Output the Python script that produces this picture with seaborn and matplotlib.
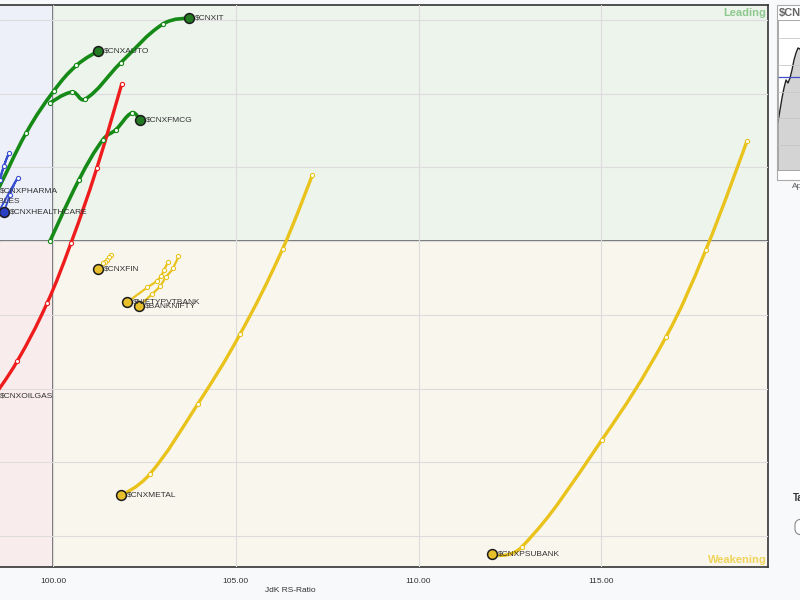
import numpy as np
import pandas as pd
import matplotlib
matplotlib.use("Agg")
import matplotlib.pyplot as plt
from matplotlib.path import Path
from matplotlib.patches import PathPatch, Rectangle, FancyBboxPatch
import seaborn as sns

# ---------------- data (JdK RS-Ratio / RS-Momentum tails, oldest -> latest) ----------------
cnxit_ratio = [99.92, 100.53, 100.87, 101.86, 103.00, 103.72]
cnxit_mom = [101.87, 102.02, 101.92, 102.42, 102.94, 103.02]

cnxauto_ratio = [97.67, 98.41, 99.26, 100.03, 100.64, 101.22]
cnxauto_mom = [100.01, 100.62, 101.46, 102.04, 102.38, 102.57]

cnxfmcg_ratio = [99.92, 100.71, 101.36, 101.72, 102.17, 102.38]
cnxfmcg_mom = [100.00, 100.83, 101.37, 101.51, 101.74, 101.64]

cnxoilgas_ratio = [101.88, 101.20, 100.49, 99.84, 99.02, 98.39]
cnxoilgas_mom = [102.13, 100.99, 99.97, 99.16, 98.37, 97.90]

cnxpharma_ratio = [97.95, 98.44, 98.79, 98.66, 98.55, 98.39]
cnxpharma_mom = [100.49, 100.76, 101.19, 101.02, 100.83, 100.68]

cnxhealth_ratio = [97.87, 98.22, 98.47, 99.03, 98.82, 98.66]
cnxhealth_mom = [100.15, 100.26, 100.37, 100.85, 100.62, 100.39]

cnxdurables_ratio = [95.10, 95.30, 95.45, 95.60, 95.70, 95.79]
cnxdurables_mom = [100.80, 100.72, 100.65, 100.60, 100.57, 100.54]

cnxfin_ratio = [101.60, 101.54, 101.48, 101.42, 101.38, 101.23]
cnxfin_mom = [99.81, 99.78, 99.74, 99.72, 99.70, 99.62]

pvtbank_ratio = [103.15, 103.04, 102.96, 102.84, 102.58, 102.03]
pvtbank_mom = [99.72, 99.61, 99.53, 99.46, 99.37, 99.17]

banknifty_ratio = [103.43, 103.28, 103.09, 102.93, 102.71, 102.35]
banknifty_mom = [99.79, 99.63, 99.51, 99.39, 99.28, 99.12]

cnxmetal_ratio = [107.09, 106.28, 105.12, 103.96, 102.65, 101.86]
cnxmetal_mom = [100.89, 99.89, 98.74, 97.79, 96.84, 96.55]

cnxpsubank_ratio = [118.98, 117.86, 116.77, 115.01, 112.82, 112.00]
cnxpsubank_mom = [101.35, 99.88, 98.70, 97.30, 95.85, 95.75]

series_names = ["$CNXIT", "$CNXAUTO", "$CNXFMCG", "$CNXOILGAS", "$CNXPHARMA",
                "$CNXHEALTHCARE", "$CNXCONSUMERDURABLES", "$CNXFIN", "$NIFTYPVTBANK",
                "$BANKNIFTY", "$CNXMETAL", "$CNXPSUBANK"]

x_ticks = [100, 105, 110, 115]
y_grid = [96, 97, 98, 99, 100, 101, 102, 103]

# small price panel on the right (partially visible)
panel_values = [48, 60, 72, 82, 90, 87, 92, 100, 110, 117, 122, 121, 118, 115, 112, 110]
panel_ref = 93

# ---------------- style ----------------
sns.set_theme(style="white")
plt.rcParams["font.family"] = ["Liberation Sans", "DejaVu Sans"]

GREEN, GREEN_HEAD = "#168a16", "#237a23"
YELLOW, YELLOW_HEAD = "#e9c31c", "#e6bf2a"
RED = "#ee1c1c"
BLUE, BLUE_HEAD = "#3a4fd0", "#2b3fc4"

styles = {
    "$CNXIT": (GREEN, GREEN_HEAD, 2.6),
    "$CNXAUTO": (GREEN, GREEN_HEAD, 2.6),
    "$CNXFMCG": (GREEN, GREEN_HEAD, 2.6),
    "$CNXOILGAS": (RED, RED, 2.4),
    "$CNXPHARMA": (BLUE, BLUE_HEAD, 1.4),
    "$CNXHEALTHCARE": (BLUE, BLUE_HEAD, 1.4),
    "$CNXCONSUMERDURABLES": (BLUE, BLUE_HEAD, 1.4),
    "$CNXFIN": (YELLOW, YELLOW_HEAD, 1.6),
    "$NIFTYPVTBANK": (YELLOW, YELLOW_HEAD, 1.6),
    "$BANKNIFTY": (YELLOW, YELLOW_HEAD, 1.6),
    "$CNXMETAL": (YELLOW, YELLOW_HEAD, 2.4),
    "$CNXPSUBANK": (YELLOW, YELLOW_HEAD, 2.4),
}

ratios = [cnxit_ratio, cnxauto_ratio, cnxfmcg_ratio, cnxoilgas_ratio, cnxpharma_ratio,
          cnxhealth_ratio, cnxdurables_ratio, cnxfin_ratio, pvtbank_ratio,
          banknifty_ratio, cnxmetal_ratio, cnxpsubank_ratio]
moms = [cnxit_mom, cnxauto_mom, cnxfmcg_mom, cnxoilgas_mom, cnxpharma_mom,
        cnxhealth_mom, cnxdurables_mom, cnxfin_mom, pvtbank_mom,
        banknifty_mom, cnxmetal_mom, cnxpsubank_mom]

rows = []
for name, xr, ym in zip(series_names, ratios, moms):
    for i, (a, b) in enumerate(zip(xr, ym)):
        rows.append({"name": name, "step": i, "ratio": a, "momentum": b,
                     "head": i == len(xr) - 1})
df = pd.DataFrame(rows)


def spline_path(xs, ys, smoothing=1.5):
    """Highcharts-like smooth cubic Bezier through the given points."""
    n = len(xs)
    denom = smoothing + 1.0
    L, R = [], []
    for i in range(n):
        x, y = xs[i], ys[i]
        if 0 < i < n - 1:
            lx = (smoothing * x + xs[i - 1]) / denom
            ly = (smoothing * y + ys[i - 1]) / denom
            rx = (smoothing * x + xs[i + 1]) / denom
            ry = (smoothing * y + ys[i + 1]) / denom
            if rx != lx:
                corr = (ry - ly) * (rx - x) / (rx - lx) + y - ry
                ly += corr
                ry += corr
            L.append((lx, ly))
            R.append((rx, ry))
        else:
            L.append((x, y))
            R.append((x, y))
    verts = [(xs[0], ys[0])]
    codes = [Path.MOVETO]
    for i in range(1, n):
        verts += [R[i - 1], L[i], (xs[i], ys[i])]
        codes += [Path.CURVE4] * 3
    return Path(verts, codes)


# ---------------- figure ----------------
W, H = 800, 600
fig = plt.figure(figsize=(8, 6), dpi=100, facecolor="#f8f9fa")
ax_l, ax_r, ax_t, ax_b = 0, 768, 5, 567
ax = fig.add_axes([ax_l / W, 1 - ax_b / H, (ax_r - ax_l) / W, (ax_b - ax_t) / H])
xmin, xmax = 98.55, 119.56
ymin, ymax = 95.58, 103.20
ax.set_xlim(xmin, xmax)
ax.set_ylim(ymin, ymax)

# quadrant backgrounds
quads = [((xmin, 100), (100, ymax), "#eef0f9"),   # improving
         ((100, 100), (xmax, ymax), "#edf4ec"),   # leading
         ((100, ymin), (xmax, 100), "#f9f6ee"),   # weakening
         ((xmin, ymin), (100, 100), "#f9ecec")]   # lagging
for (x0, y0), (x1, y1), c in quads:
    ax.add_patch(Rectangle((x0, y0), x1 - x0, y1 - y0, facecolor=c,
                           edgecolor="none", zorder=0))

ax.set_xticks(x_ticks)
ax.set_xticklabels([f"{v:.2f}" for v in x_ticks])
ax.set_yticks(y_grid)
ax.set_yticklabels([])
ax.grid(True, color="#dcdcdc", lw=0.8, zorder=1)
ax.set_axisbelow(False)
for gl in ax.get_xgridlines() + ax.get_ygridlines():
    gl.set_zorder(1)
ax.tick_params(axis="x", length=0, pad=8, labelsize=6, labelcolor="#333333")
ax.tick_params(axis="y", length=0)
ax.axvline(100, color="#555555", lw=1.1, zorder=2)
ax.axhline(100, color="#555555", lw=1.1, zorder=2)
for s in ["top", "right", "bottom"]:
    ax.spines[s].set_color("#333333")
    ax.spines[s].set_linewidth(1.2)
ax.spines["left"].set_visible(False)

# tails
for name in series_names:
    col, headc, lw = styles[name]
    d = df[df["name"] == name]
    path = spline_path(d["ratio"].to_numpy(), d["momentum"].to_numpy())
    ax.add_patch(PathPatch(path, facecolor="none", edgecolor=col, lw=lw,
                           capstyle="round", joinstyle="round", zorder=3))
    tail = d[~d["head"]]
    sns.scatterplot(data=tail, x="ratio", y="momentum", ax=ax, s=9,
                    color="white", edgecolor=col, linewidth=0.8, zorder=4,
                    legend=False)
    head = d[d["head"]]
    sns.scatterplot(data=head, x="ratio", y="momentum", ax=ax, s=50,
                    color=headc, edgecolor="#1b1b1b", linewidth=1.1, zorder=5,
                    legend=False)
    hx, hy = head["ratio"].iloc[0], head["momentum"].iloc[0]
    ax.annotate(name, (hx, hy), xytext=(4.2, 0), textcoords="offset points",
                va="center", ha="left", fontsize=6, color="#333333",
                annotation_clip=False, clip_on=True, zorder=6)

ax.set_xlabel("")
ax.set_ylabel("")

# quadrant names
ax.text(0.998, 1 - 8 / 562, "Leading", transform=ax.transAxes, ha="right", va="center",
        fontsize=8, fontweight="bold", color="#8fc88f", zorder=6)
ax.text(0.998, 7 / 562, "Weakening", transform=ax.transAxes, ha="right", va="center",
        fontsize=8, fontweight="bold", color="#efd35a", zorder=6)

fig.text(290 / W, 1 - 590 / H, "JdK RS-Ratio", ha="center", va="center",
         fontsize=6, color="#333333")

# ---------------- right-hand price panel (cut off by the image edge) ----------------
fig.add_artist(Rectangle((777 / W, 1 - 180 / H), 60 / W, 175 / H,
                         transform=fig.transFigure, facecolor="white",
                         edgecolor="#aaaaaa", lw=0.8, zorder=0.5))
fig.text(779 / W, 1 - 13 / H, "$CNXIT", ha="left", va="center", fontsize=8,
         fontweight="bold", color="#666666")
ax2 = fig.add_axes([778 / W, 1 - 170 / H, 40 / W, 150 / H])
ax2.set_zorder(3)
ax2.set_facecolor("white")
xs2 = np.arange(len(panel_values))
ax2.fill_between(xs2, panel_values, 0, color="#d4d4d4", lw=0)
sns.lineplot(x=xs2, y=panel_values, ax=ax2, color="#222222", lw=1.0)
ax2.axhline(panel_ref, color="#4050c8", lw=0.9)
ax2.set_xlim(0, 20)
ax2.set_ylim(0, 150)
ax2.set_yticks([25, 52, 78, 105, 132])
ax2.set_xticks([])
ax2.set_yticklabels([])
ax2.tick_params(length=0)
ax2.grid(True, axis="y", color="#c8c8c8", lw=0.6)
ax2.set_axisbelow(False)
for s in ax2.spines.values():
    s.set_color("#999999")
    s.set_linewidth(0.6)
ax2.set_xlabel("")
ax2.set_ylabel("")
fig.text(792 / W, 1 - 187 / H, "Apr", ha="left", va="center", fontsize=6,
         color="#555555")

fig.text(793 / W, 1 - 498 / H, "Tail", ha="left", va="center", fontsize=7,
         fontweight="bold", color="#333333")
fig.add_artist(FancyBboxPatch((795 / W, 1 - 535 / H), 40 / W, 16 / H,
                              boxstyle="round,pad=0,rounding_size=0.01",
                              transform=fig.transFigure, facecolor="white",
                              edgecolor="#888888", lw=0.8))

fig.savefig("out.png", dpi=100, facecolor=fig.get_facecolor())
